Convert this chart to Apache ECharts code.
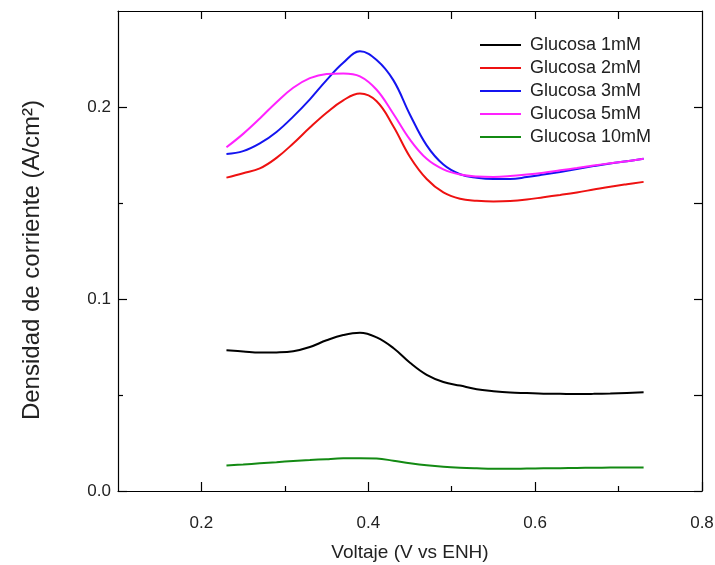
<!DOCTYPE html>
<html>
<head>
<meta charset="utf-8">
<script src="https://cdn.jsdelivr.net/npm/echarts@6/dist/echarts.min.js"></script>
<style>html,body{margin:0;padding:0;background:#fff}#c{width:715px;height:565px}</style>
</head>
<body>
<div id="c"></div>
<script>
var voltage = [0.23,0.25,0.27,0.29,0.31,0.33,0.35,0.37,0.39,0.41,0.43,0.45,0.47,0.49,0.51,0.53,0.55,0.57,0.59,0.61,0.63,0.65,0.67,0.69,0.71,0.73];
var glucosa1 = [0.0733,0.0727,0.0721,0.0722,0.0728,0.0750,0.0785,0.0812,0.0824,0.0800,0.0745,0.0668,0.0605,0.0568,0.0549,0.0530,0.0520,0.0513,0.0510,0.0507,0.0506,0.0505,0.0506,0.0508,0.0511,0.0514];
var glucosa2 = [0.1632,0.1655,0.1680,0.1735,0.1810,0.1893,0.1970,0.2035,0.2070,0.2030,0.1900,0.1740,0.1625,0.1555,0.1522,0.1512,0.1508,0.1510,0.1518,0.1530,0.1542,0.1555,0.1570,0.1585,0.1598,0.1610];
var glucosa3 = [0.1755,0.1770,0.1810,0.1870,0.1950,0.2040,0.2140,0.2230,0.2290,0.2245,0.2140,0.1960,0.1800,0.1700,0.1650,0.1632,0.1625,0.1625,0.1635,0.1648,0.1662,0.1677,0.1692,0.1706,0.1718,0.1730];
var glucosa5 = [0.1790,0.1860,0.1940,0.2025,0.2100,0.2150,0.2172,0.2175,0.2160,0.2090,0.1965,0.1830,0.1730,0.1675,0.1648,0.1638,0.1636,0.1640,0.1648,0.1658,0.1670,0.1682,0.1695,0.1707,0.1718,0.1730];
var glucosa10 = [0.0133,0.0138,0.0144,0.0150,0.0156,0.0161,0.0166,0.0170,0.0171,0.0169,0.0158,0.0145,0.0134,0.0126,0.0121,0.0118,0.0116,0.0116,0.0117,0.0118,0.0119,0.0120,0.0121,0.0122,0.0123,0.0123];
var seriesNames = ['Glucosa 1mM','Glucosa 2mM','Glucosa 3mM','Glucosa 5mM','Glucosa 10mM'];
var xMajorTicks = [0.2,0.4,0.6,0.8];
var xMinorTicks = [0.3,0.5,0.7];
var xTopTicks = [0.2,0.3,0.4,0.5,0.6,0.7];
var yMajorTicks = [0,0.1,0.2];
var yMinorTicks = [0.05,0.15];
var xName = 'Voltaje (V vs ENH)';
var yName = 'Densidad de corriente (A/cm²)';

var colors = ['#000000','#ee1111','#1414f0','#ff22ff','#138a13'];
var allY = [glucosa1,glucosa2,glucosa3,glucosa5,glucosa10];
var font = 'Liberation Sans, Arial, sans-serif';
function pairs(ys){ return voltage.map(function(x,i){return [x, ys[i]];}); }

var lineSt = {color:'#000', width:1.2};
function xa(extra){ return Object.assign({type:'value', min:0.1, max:0.8, splitLine:{show:false}}, extra); }
function ya(extra){ return Object.assign({type:'value', min:0, max:0.25, splitLine:{show:false}}, extra); }

var chart = echarts.init(document.getElementById('c'));
chart.setOption({
  animation:false,
  backgroundColor:'#fff',
  textStyle:{fontFamily:font},
  grid:{left:118, right:13, top:11, bottom:74, outerBoundsMode:'none', containLabel:false},
  legend:{
    orient:'vertical', left:475, top:31, itemWidth:41, itemHeight:2, itemGap:5, icon:'rect',
    textStyle:{fontSize:18, color:'#222', fontFamily:font, padding:[0,0,0,4]},
    data:seriesNames
  },
  xAxis:[
    xa({position:'bottom', name:xName, nameLocation:'middle', nameGap:52,
        nameTextStyle:{fontSize:19, color:'#222', fontFamily:font},
        axisLine:{show:true, onZero:false, lineStyle:lineSt},
        axisTick:{show:true, inside:true, length:9, customValues:xMajorTicks, lineStyle:lineSt},
        axisLabel:{show:true, customValues:xMajorTicks, margin:24, fontSize:17, color:'#222', fontFamily:font,
          formatter:function(v){return v.toFixed(1);}}}),
    xa({position:'bottom', axisLine:{show:false, onZero:false},
        axisTick:{show:true, inside:true, length:5, customValues:xMinorTicks, lineStyle:lineSt},
        axisLabel:{show:false}}),
    xa({position:'top', axisLine:{show:true, onZero:false, lineStyle:lineSt},
        axisTick:{show:true, inside:true, length:8, customValues:xTopTicks, lineStyle:lineSt},
        axisLabel:{show:false}})
  ],
  yAxis:[
    ya({position:'left', name:yName, nameLocation:'middle', nameGap:74, nameRotate:90,
        nameTextStyle:{fontSize:24, color:'#222', fontFamily:font, padding:[0,18,0,0]},
        axisLine:{show:true, onZero:false, lineStyle:lineSt},
        axisTick:{show:true, inside:true, length:9, customValues:yMajorTicks, lineStyle:lineSt},
        axisLabel:{show:true, customValues:yMajorTicks, margin:7, fontSize:17, color:'#222', fontFamily:font,
          formatter:function(v){return v.toFixed(1);}}}),
    ya({position:'left', axisLine:{show:false, onZero:false},
        axisTick:{show:true, inside:true, length:5, customValues:yMinorTicks, lineStyle:lineSt},
        axisLabel:{show:false}}),
    ya({position:'right', axisLine:{show:true, onZero:false, lineStyle:lineSt},
        axisTick:{show:true, inside:true, length:8, customValues:yMajorTicks.concat(yMinorTicks), lineStyle:lineSt},
        axisLabel:{show:false}})
  ],
  series: seriesNames.map(function(n,i){
    return {name:n, type:'line', xAxisIndex:0, yAxisIndex:0, smooth:0.4, symbol:'none',
      data:pairs(allY[i]), lineStyle:{color:colors[i], width:2}, itemStyle:{color:colors[i]}};
  })
});
</script>
</body>
</html>
